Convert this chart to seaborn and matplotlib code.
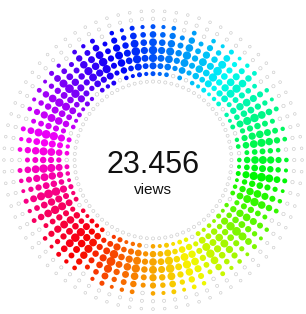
import colorsys
import numpy as np
import pandas as pd
import matplotlib.pyplot as plt
import seaborn as sns

# spoke levels, clockwise from 12 o'clock (80 spokes, 4.5 degrees apart)
spoke_levels = [
    0.95, 0.80, 0.90, 0.72, 0.92, 0.70, 0.88, 0.78, 0.96, 0.74,
    0.85, 0.92, 0.68, 0.86, 0.76, 0.94, 0.72, 0.84, 0.90, 0.66,
    0.88, 0.78, 0.96, 0.74, 0.86, 0.92, 0.70, 0.85, 0.76, 0.97,
    0.74, 0.88, 0.80, 0.93, 0.70, 0.86, 0.91, 0.76, 0.95, 0.78,
    0.88, 0.72, 0.92, 0.84, 0.76, 0.98, 0.80, 0.72, 0.90, 0.84,
    0.95, 0.76, 0.88, 0.70, 0.93, 0.82, 0.98, 0.76, 0.87, 0.94,
    0.72, 0.90, 0.82, 0.96, 0.70, 0.88, 0.78, 0.93, 0.76, 0.97,
    0.82, 0.72, 0.91, 0.84, 0.95, 0.70, 0.88, 0.78, 0.96, 0.80,
]
ring_radius = [80, 88, 96, 104, 112, 120, 128, 136, 144, 152]
ring_weight = [0.28, 0.58, 0.82, 0.96, 1.0, 0.92, 0.78, 0.58, 0.34, 0.15]
total_views = "23.456"
views_label = "views"


def spoke_color(angle_deg):
    hue = ((220 - angle_deg) % 360) / 360.0
    return colorsys.hsv_to_rgb(hue, 1.0, 0.97)


def build_frame():
    rows = []
    n = len(spoke_levels)
    for i, level in enumerate(spoke_levels):
        angle = 360.0 * i / n
        for r, w in zip(ring_radius, ring_weight):
            rows.append({
                "spoke": f"s{i}",
                "theta": np.deg2rad(angle),
                "r": r,
                "p": level * w,
            })
    return pd.DataFrame(rows)


def plot_views_ring(output_path="out.png"):
    df = build_frame()
    filled = df[df["p"] >= 0.42].copy()
    empty = df[df["p"] < 0.42].copy()

    n = len(spoke_levels)
    palette = {f"s{i}": spoke_color(360.0 * i / n) for i in range(n)}

    fig = plt.figure(figsize=(3.06, 3.14), dpi=100)
    ax = fig.add_axes([0, 0, 1, 308 / 314], projection="polar")
    ax.set_theta_zero_location("N")
    ax.set_theta_direction(-1)

    # faint outline dots around the colored band
    sns.scatterplot(data=empty, x="theta", y="r", ax=ax, color="white",
                    edgecolor="#cfcfcf", linewidth=0.5,
                    s=(empty["p"] * 10 + 2.5).values, legend=False)

    # colored dots, size grows with level
    diam_px = filled["p"] * 9.0
    sns.scatterplot(data=filled, x="theta", y="r", hue="spoke", palette=palette,
                    ax=ax, s=((diam_px * 0.72) ** 2).values, linewidth=0,
                    legend=False)

    ax.set_ylim(0, 156)
    ax.set_axis_off()

    fig.text(0.5, 0.474, total_views, ha="center", va="center",
             fontsize=22, color="#111111",
             family=["Liberation Sans", "DejaVu Sans"])
    fig.text(0.5, 0.396, views_label, ha="center", va="center",
             fontsize=11, color="#111111",
             family=["Liberation Sans", "DejaVu Sans"])

    fig.savefig(output_path, dpi=100)
    print(f"Plot saved to {output_path}")


if __name__ == "__main__":
    plot_views_ring()
